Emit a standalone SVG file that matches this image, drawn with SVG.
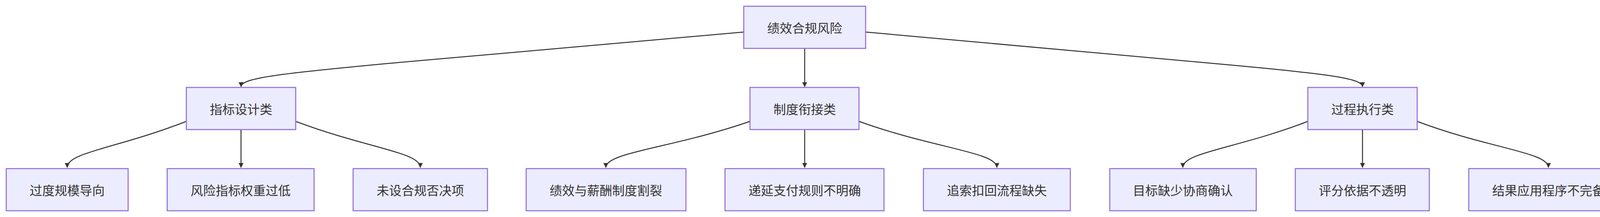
<svg xmlns="http://www.w3.org/2000/svg" width="4184" height="556" viewBox="0 0 4184 556">
<style>
.n rect{fill:#ECECFF;stroke:#9370DB;stroke-width:2.7}
.n text{font-family:"Noto Sans CJK SC","Liberation Sans",sans-serif;font-size:32px;fill:#333;text-anchor:middle;dominant-baseline:central}
.e path{fill:none;stroke:#333;stroke-width:2.5}
</style>
<defs><marker id="a" viewBox="0 0 10 10" refX="9" refY="5" markerWidth="6" markerHeight="5" orient="auto" markerUnits="strokeWidth"><path d="M0,0L10,5L0,10z" fill="#333"/></marker></defs>
<g class="e">
<path d="M1905,82 L1000,162 C720,188 617,200 617,222" marker-end="url(#a)"/>
<path d="M2060,124 L2060,222" marker-end="url(#a)"/>
<path d="M2215,82 L3100,162 C3390,188 3488,200 3488,222" marker-end="url(#a)"/>
<path d="M477,311 C300,380 172,390 172,429" marker-end="url(#a)"/>
<path d="M617,332 L617,429" marker-end="url(#a)"/>
<path d="M757,311 C940,380 1076,390 1076,429" marker-end="url(#a)"/>
<path d="M1920,311 C1720,380 1551,390 1551,429" marker-end="url(#a)"/>
<path d="M2060,332 L2060,429" marker-end="url(#a)"/>
<path d="M2199,311 C2390,380 2552,390 2552,429" marker-end="url(#a)"/>
<path d="M3348,311 C3170,380 3028,390 3028,429" marker-end="url(#a)"/>
<path d="M3488,332 L3488,429" marker-end="url(#a)"/>
<path d="M3628,311 C3810,380 3964,390 3964,429" marker-end="url(#a)"/>
</g>
<g id="root" class="n"><rect x="1904" y="16" width="312" height="108"/><text x="2060" y="70">绩效合规风险</text></g>
<g id="c1" class="n"><rect x="477" y="224" width="280" height="108"/><text x="617" y="278">指标设计类</text></g>
<g id="c2" class="n"><rect x="1920" y="224" width="279" height="108"/><text x="2060" y="278">制度衔接类</text></g>
<g id="c3" class="n"><rect x="3348" y="224" width="280" height="108"/><text x="3488" y="278">过程执行类</text></g>
<g id="l1" class="n"><rect x="16" y="432" width="312" height="108"/><text x="172" y="486">过度规模导向</text></g>
<g id="l2" class="n"><rect x="428" y="432" width="376" height="108"/><text x="616" y="486">风险指标权重过低</text></g>
<g id="l3" class="n"><rect x="904" y="432" width="344" height="108"/><text x="1076" y="486">未设合规否决项</text></g>
<g id="l4" class="n"><rect x="1347" y="432" width="409" height="108"/><text x="1551" y="486">绩效与薪酬制度割裂</text></g>
<g id="l5" class="n"><rect x="1856" y="432" width="407" height="108"/><text x="2060" y="486">递延支付规则不明确</text></g>
<g id="l6" class="n"><rect x="2364" y="432" width="376" height="108"/><text x="2552" y="486">追索扣回流程缺失</text></g>
<g id="l7" class="n"><rect x="2841" y="432" width="375" height="108"/><text x="3028" y="486">目标缺少协商确认</text></g>
<g id="l8" class="n"><rect x="3316" y="432" width="343" height="108"/><text x="3488" y="486">评分依据不透明</text></g>
<g id="l9" class="n"><rect x="3760" y="432" width="408" height="108"/><text x="3964" y="486">结果应用程序不完备</text></g>
</svg>
